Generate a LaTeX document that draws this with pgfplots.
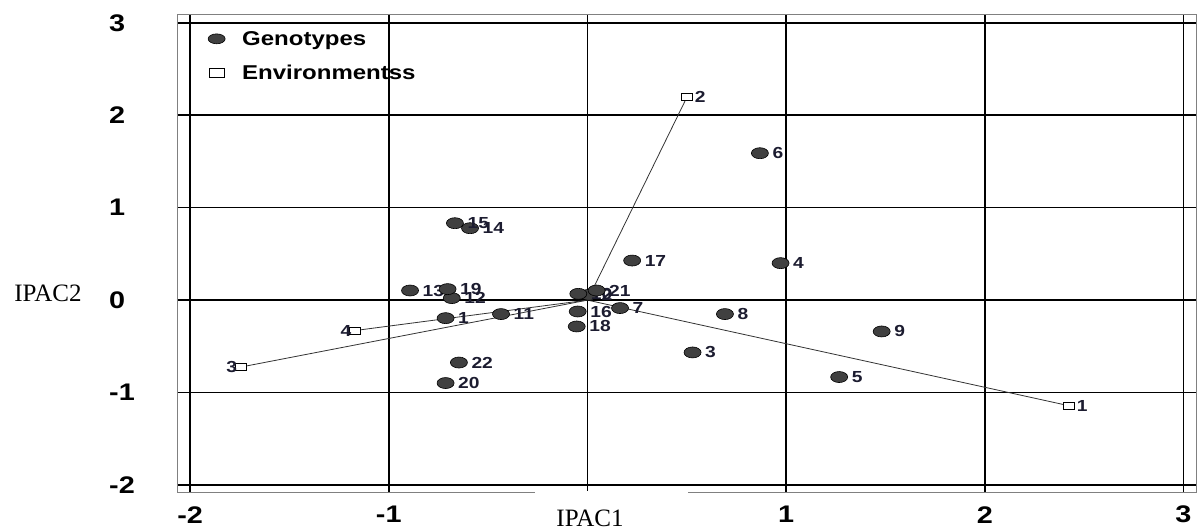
\documentclass[border=0pt]{standalone}
\usepackage{fontspec}
\usepackage{pgfplots}
\usepackage{pgfplotstable}
\pgfplotsset{compat=1.18}
\setmainfont{Liberation Serif}
\newfontfamily\arialx[FakeStretch=1.2]{Liberation Sans}
\definecolor{dotgray}{HTML}{404040}
\definecolor{labcol}{HTML}{1C1C30}
\definecolor{vecgray}{HTML}{333333}

\pgfplotstableread{
x y lab
-0.714 -0.195 1
0.008 0.057 2
0.529 -0.566 3
0.972 0.400 4
1.267 -0.832 5
0.868 1.589 6
0.164 -0.086 7
0.692 -0.151 8
1.481 -0.339 9
-0.046 0.068 10
-0.435 -0.151 11
-0.683 0.022 12
-0.893 0.104 13
-0.591 0.778 14
-0.667 0.832 15
-0.049 -0.123 16
0.225 0.428 17
-0.054 -0.285 18
-0.704 0.119 19
-0.714 -0.897 20
0.046 0.104 21
-0.647 -0.675 22
}\genotypes

% environments labelled on the right
\pgfplotstableread{
x y lab
2.425 -1.143 1
0.502 2.201 2
}\envright
% environments labelled on the left
\pgfplotstableread{
x y lab
-1.745 -0.724 3
-1.170 -0.329 4
}\envleft

\begin{document}
\begin{tikzpicture}[x=1pt,y=1pt]
\path (-177,-34.3) rectangle (1021,492.7);
\begin{axis}[
  at={(0,0)}, anchor=south west,
  scale only axis, width=1019pt, height=478.7pt,
  xmin=-2.066, xmax=3.063, ymin=-2.083, ymax=3.095,
  xtick={-2,-1,0,1,2,3}, ytick={-2,-1,0,1,2,3},
  xticklabels={{-2},{-1},{},{1},{2},{3}},
  yticklabels={{-2},{-1},{0},{1},{2},{3}},
  grid=major, grid style={black, line width=1.5pt},
  major tick length=0pt,
  axis line style={gray, line width=0.8pt},
  xticklabel style={font=\arialx\bfseries\fontsize{24}{24}\selectfont, anchor=center, yshift=-22pt},
  yticklabel style={font=\arialx\bfseries\fontsize{24}{24}\selectfont, anchor=west, inner sep=0pt, xshift=-68pt},
  legend style={at={(0.0274,0.973)}, anchor=north west, draw=none, fill=none,
    font=\arialx\bfseries\fontsize{20}{20}\selectfont, row sep=14.5pt, column sep=15pt},
  legend cell align=left,
  clip=false,
]
\addplot[forget plot, vecgray, line width=0.8pt] coordinates {(0,0) (2.425,-1.143)};
\addplot[forget plot, vecgray, line width=0.8pt] coordinates {(0,0) (0.502,2.201)};
\addplot[forget plot, vecgray, line width=0.8pt] coordinates {(0,0) (-1.745,-0.724)};
\addplot[forget plot, vecgray, line width=0.8pt] coordinates {(0,0) (-1.170,-0.329)};

\addplot[only marks, mark=*, mark size=5.5pt,
  mark options={xscale=1.55, fill=dotgray, draw=black, line width=0.6pt},
  legend image post style={mark options={xscale=1.55, yscale=0.9, fill=dotgray, draw=black, line width=0.6pt}},
  point meta=explicit symbolic,
  nodes near coords,
  nodes near coords style={anchor=west, xshift=9pt, text=labcol,
    font=\arialx\bfseries\fontsize{16}{16}\selectfont}]
  table[x=x, y=y, meta=lab] {\genotypes};
\addlegendentry{Genotypes}

\addplot[only marks, mark=square*, mark size=3.6pt,
  mark options={xscale=1.5, fill=white, draw=black, line width=0.8pt},
  legend image post style={mark options={xscale=2.1, yscale=1.25, fill=white, draw=black, line width=0.8pt}},
  point meta=explicit symbolic,
  nodes near coords,
  nodes near coords style={anchor=west, xshift=4pt, text=labcol,
    font=\arialx\bfseries\fontsize{16}{16}\selectfont}]
  table[x=x, y=y, meta=lab] {\envright};
\addlegendentry{Environmentss}

\addplot[forget plot, only marks, mark=square*, mark size=3.6pt,
  mark options={xscale=1.5, fill=white, draw=black, line width=0.8pt},
  point meta=explicit symbolic,
  nodes near coords,
  nodes near coords style={anchor=east, xshift=0pt, text=labcol,
    font=\arialx\bfseries\fontsize{16}{16}\selectfont}]
  table[x=x, y=y, meta=lab] {\envleft};
\end{axis}
\fill[white] (358,-34.3) rectangle (511,1.5);
\node[font=\fontsize{25}{25}\selectfont] at (413,-25.3) {IPAC1};
\node[font=\fontsize{25}{25}\selectfont] at (-129,199.7) {IPAC2};
\end{tikzpicture}
\end{document}
